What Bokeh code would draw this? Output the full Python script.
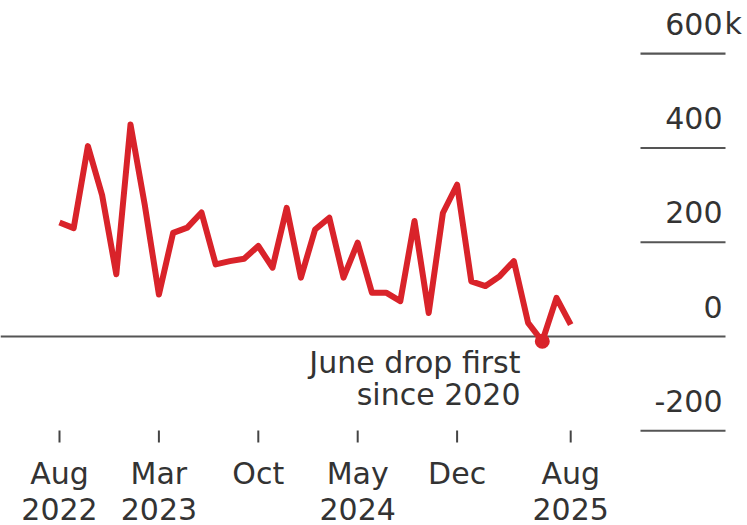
from bokeh.plotting import figure
from bokeh.models import ColumnDataSource, Range1d
from bokeh.core.properties import value
from bokeh.embed import file_html
from bokeh.resources import INLINE

# ---------------- data ----------------
months = ["2022-08", "2022-09", "2022-10", "2022-11", "2022-12",
          "2023-01", "2023-02", "2023-03", "2023-04", "2023-05", "2023-06",
          "2023-07", "2023-08", "2023-09", "2023-10", "2023-11", "2023-12",
          "2024-01", "2024-02", "2024-03", "2024-04", "2024-05", "2024-06",
          "2024-07", "2024-08", "2024-09", "2024-10", "2024-11", "2024-12",
          "2025-01", "2025-02", "2025-03", "2025-04", "2025-05", "2025-06",
          "2025-07", "2025-08"]
payrolls_k = [242, 230, 404, 300, 132,
              450, 280, 89, 220, 231, 263,
              153, 160, 165, 192, 146, 273,
              125, 227, 252, 125, 199, 93,
              93, 75, 245, 50, 262, 322,
              117, 107, 128, 160, 29, -10,
              82, 25]
tick_months = ["2022-08", "2023-03", "2023-10", "2024-05", "2024-12", "2025-08"]
tick_month_labels = ["Aug", "Mar", "Oct", "May", "Dec", "Aug"]
tick_year_labels = ["2022", "2023", "", "2024", "", "2025"]
y_ticks = [600, 400, 200, 0, -200]
y_tick_labels = ["600", "400", "200", "0", "-200"]
highlight_month = "2025-06"
note_lines = ["June drop first", "since 2020"]

# ---------------- layout helpers (pixel geometry) ----------------
W, H = 747, 525
X0_PX, X_STEP = 59.0, 14.2          # pixel of first month, px per month
Y0_PX, Y_SCALE = 336.0, 0.4713       # pixel of zero, px per thousand
TXT_SHIFT = 10                       # baseline correction, px


def mi(m):
    y, mo = m.split("-")
    return (int(y) - 2022) * 12 + int(mo) - 8


def dx(px):
    return (px - X0_PX) / X_STEP


def dy(py):
    return (Y0_PX - py) / Y_SCALE


def ty(py):
    return dy(py - TXT_SHIFT)


RED = "#d9232a"
INK = "#333333"
FONT = value("DejaVu Sans")
FS = "30px"

p = figure(width=W, height=H, output_backend="svg", toolbar_location=None,
           x_range=Range1d(dx(0), dx(W)), y_range=Range1d(dy(H), dy(0)),
           min_border=0, min_border_left=0, min_border_right=0,
           min_border_top=0, min_border_bottom=0)
p.axis.visible = False
p.grid.visible = False
p.outline_line_color = None
p.background_fill_color = "white"
p.border_fill_color = "white"

xs = [mi(m) for m in months]

# gridline stubs on the right, zero line full width
grid_x0 = [dx(640) if v != 0 else dx(0) for v in y_ticks]
grid_x1 = [dx(725)] * len(y_ticks)
p.segment(x0=grid_x0, y0=y_ticks, x1=grid_x1, y1=y_ticks,
          line_color="#555555", line_width=2.2)

# y labels (baseline ~20px above each gridline)
ylab_y = [ty(Y0_PX - v * Y_SCALE - 20) for v in y_ticks]
ylab = ColumnDataSource(dict(x=[dx(722)] * len(y_ticks), y=ylab_y,
                             t=y_tick_labels))
p.text(x="x", y="y", text="t", source=ylab, text_align="right",
       text_baseline="alphabetic", text_font=FONT, text_font_size=FS,
       text_color=INK)
p.text(x=[dx(724)], y=[ylab_y[0]], text=["k"],
       text_align="left", text_baseline="alphabetic", text_font=FONT,
       text_font_size=FS, text_color=INK)

# line
p.line(xs, payrolls_k, line_color=RED, line_width=6, line_join="round",
       line_cap="butt")
hi = months.index(highlight_month)
p.scatter([xs[hi]], [payrolls_k[hi]], size=15, fill_color=RED,
          line_color=None)

# x ticks
tx = [mi(m) for m in tick_months]
p.segment(x0=tx, y0=[dy(430)] * len(tx), x1=tx, y1=[dy(442)] * len(tx),
          line_color="#444444", line_width=2)
p.text(x=tx, y=[ty(483)] * len(tx), text=tick_month_labels,
       text_align="center", text_baseline="alphabetic", text_font=FONT,
       text_font_size=FS, text_color=INK)
p.text(x=tx, y=[ty(518)] * len(tx), text=tick_year_labels,
       text_align="center", text_baseline="alphabetic", text_font=FONT,
       text_font_size=FS, text_color=INK)

# annotation
p.text(x=[dx(520)] * 2, y=[ty(372), ty(404)], text=note_lines,
       text_align="right", text_baseline="alphabetic", text_font=FONT,
       text_font_size=FS, text_color=INK)

open("out.html", "w").write(file_html(p, INLINE))
